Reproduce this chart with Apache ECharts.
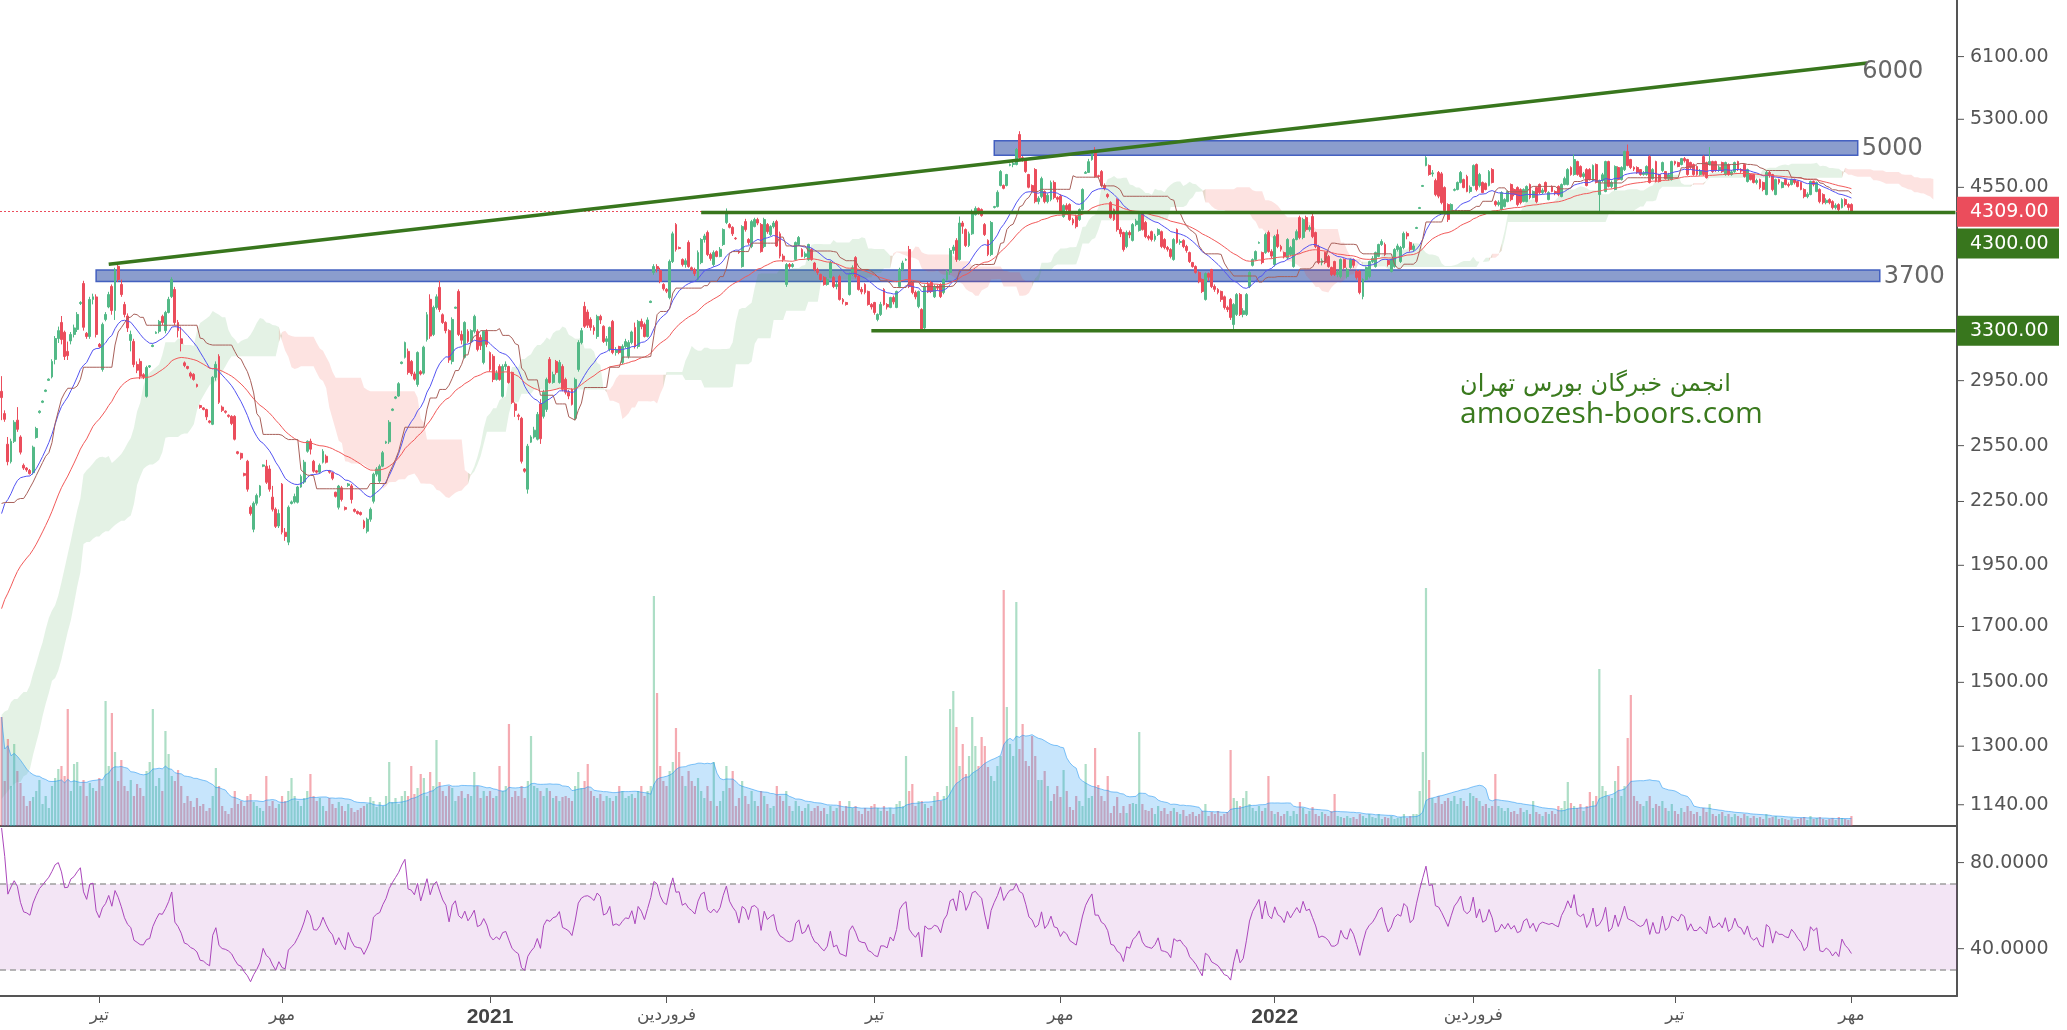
<!DOCTYPE html>
<html><head><meta charset="utf-8">
<script src="https://cdn.jsdelivr.net/npm/echarts@6/dist/echarts.min.js"></script>
<style>html,body{margin:0;padding:0;background:#fff;}#c{width:2067px;height:1030px;}</style>
</head><body><div id="c"></div>
<script>
// ---------- DATA ----------
const warmupCloses = [
760,770,790,780,800,820,810,830,850,840,860,880,870,890,910,900,920,940,930,950,
970,990,980,1010,1040,1030,1060,1090,1080,1110,1140,1130,1160,1190,1180,1210,1240,1230,1260,1290,
1310,1340,1330,1360,1390,1380,1410,1440,1430,1460,1490,1480,1510,1530,1520,1500,1540,1560,1530,1510,
1540,1570,1550,1600,1660,1720,1790,1860,1930,2000,2060,2040,2100,2180,2250,2330,2420,2520,2640,2760];

// [open, close, low, high]
const bars = [
[2880,2840,2700,2980],[2740,2705,2690,2760],[2558,2460,2440,2600],[2460,2575,2450,2590],[2575,2687,2565,2700],[2700,2645,2630,2780],[2600,2513,2500,2610],[2440,2425,2415,2450],[2425,2415,2405,2430],[2412,2395,2390,2420],
[2400,2541,2390,2550],[2597,2650,2590,2660],[2747,2755,2740,2760],[2810,2818,2805,2822],[2880,2888,2875,2892],[2952,2960,2948,2965],[2975,3080,2965,3095],[3094,3242,3060,3260],[3242,3300,3210,3330],[3361,3235,3200,3410],
[3288,3114,3090,3300],[3150,3120,3090,3220],[3225,3272,3200,3290],[3272,3320,3250,3345],[3309,3422,3290,3440],[3507,3515,3495,3525],[3668,3325,3300,3690],[3280,3257,3240,3290],[3257,3539,3240,3560],[3539,3560,3500,3585],
[3559,3272,3250,3580],[3200,3185,3175,3210],[3025,3346,3010,3360],[3384,3422,3370,3440],[3480,3578,3470,3600],[3644,3452,3420,3660],[3452,3785,3380,3800],[3812,3701,3680,3840],[3660,3578,3560,3700],[3499,3422,3400,3520],
[3410,3320,3290,3430],[3228,3272,3150,3300],[3221,3059,3040,3240],[3059,3020,3000,3080],[3080,2979,2960,3100],[2990,2975,2960,3000],[2848,3038,2840,3050],[3042,3050,3035,3055],[3185,3193,3180,3200],[3280,3288,3275,3295],
[3295,3369,3280,3380],[3407,3361,3340,3420],[3300,3437,3280,3450],[3437,3540,3430,3560],[3562,3701,3550,3720],[3619,3361,3340,3640],[3361,3300,3250,3380],[3240,3206,3150,3330],[3070,3052,3040,3080],[3045,3032,3025,3050],
[3000,2980,2965,3010],[2992,2958,2950,3000],[2925,2912,2905,2930],[2790,2778,2770,2795],[2775,2766,2760,2780],[2765,2720,2700,2770],[2695,2687,2680,2700],[2675,2972,2670,2980],[2972,3060,2950,3080],[3115,2810,2800,3130],
[2780,2760,2750,2790],[2755,2748,2740,2760],[2730,2723,2715,2735],[2723,2680,2670,2730],[2723,2587,2580,2730],[2515,2506,2500,2520],[2506,2480,2470,2510],[2395,2386,2380,2400],[2462,2313,2300,2470],[2221,2190,2180,2230],
[2114,2241,2100,2250],[2241,2280,2230,2290],[2280,2330,2270,2335],[2435,2442,2430,2445],[2435,2349,2340,2470],[2420,2313,2300,2440],[2272,2211,2200,2330],[2211,2128,2120,2220],[2130,2190,2120,2210],[2339,2100,2090,2345],
[2100,2080,2060,2120],[2054,2221,2040,2230],[2240,2248,2235,2255],[2248,2275,2240,2290],[2246,2324,2240,2330],[2324,2380,2320,2390],[2350,2457,2340,2470],[2518,2575,2510,2580],[2575,2530,2500,2590],[2462,2408,2400,2470],
[2410,2403,2395,2415],[2403,2440,2395,2450],[2457,2518,2450,2530],[2490,2457,2450,2500],[2410,2403,2395,2415],[2400,2370,2360,2405],[2297,2276,2270,2300],[2221,2329,2210,2335],[2320,2260,2250,2330],[2220,2211,2205,2225],
[2332,2340,2325,2345],[2330,2260,2240,2340],[2210,2201,2195,2215],[2200,2190,2185,2205],[2195,2185,2180,2200],[2153,2123,2115,2160],[2105,2162,2095,2170],[2162,2211,2150,2220],[2251,2392,2240,2400],[2392,2420,2380,2430],
[2355,2435,2345,2445],[2435,2510,2430,2520],[2565,2572,2560,2578],[2572,2687,2560,2700],[2760,2768,2755,2772],[2836,2844,2830,2850],[2850,2930,2845,2940],[3066,3075,3060,3080],[3108,3213,3100,3220],[3150,3005,2990,3170],
[3080,2995,2980,3090],[2995,2960,2950,3010],[2925,3142,2910,3150],[3010,2995,2985,3020],[3000,3180,2990,3190],[3235,3420,3220,3440],[3540,3260,3240,3580],[3272,3476,3260,3490],[3476,3560,3460,3580],[3636,3460,3440,3690],
[3420,3361,3350,3430],[3361,3300,3280,3370],[3300,3090,3070,3310],[3080,3384,3060,3400],[3470,3478,3465,3482],[3603,3272,3260,3620],[3272,3230,3200,3300],[3108,3361,3100,3370],[3295,3221,3210,3310],[3221,3300,3210,3310],
[3295,3407,3280,3420],[3295,3164,3150,3310],[3250,3190,3160,3270],[3073,3295,3060,3300],[3295,3200,3180,3310],[3142,3025,3010,3150],[3115,2958,2940,3130],[2958,3000,2950,3020],[3045,2958,2950,3060],[2848,3045,2840,3060],
[3045,3060,3020,3080],[3045,2938,2930,3050],[3005,2810,2800,3010],[2800,2760,2720,2810],[2730,2723,2700,2740],[2711,2462,2450,2720],[2420,2408,2400,2425],[2313,2547,2290,2560],[2570,2600,2565,2610],[2600,2640,2590,2660],
[2587,2735,2580,2750],[2800,2590,2560,2830],[2723,2874,2710,2890],[2766,2958,2750,2970],[3094,2938,2930,3110],[2938,2990,2930,3010],[3080,3005,2990,3090],[2938,3073,2930,3090],[3045,2893,2880,3060],[2958,2874,2860,2970],
[2874,2850,2830,2890],[2893,2797,2790,2900],[2711,2958,2700,2970],[3025,3213,3010,3230],[3213,3300,3200,3320],[3484,3332,3320,3520],[3440,3340,3320,3460],[3384,3324,3300,3400],[3324,3300,3270,3340],[3257,3407,3240,3420],
[3407,3380,3350,3420],[3332,3221,3210,3340],[3221,3240,3190,3260],[3164,3324,3150,3330],[3369,3142,3130,3380],[3142,3160,3120,3180],[3185,3142,3130,3190],[3073,3185,3060,3200],[3185,3220,3170,3240],[3115,3213,3100,3230],
[3213,3290,3200,3300],[3324,3185,3170,3360],[3185,3369,3170,3380],[3369,3330,3310,3390],[3346,3257,3250,3360],[3257,3380,3250,3400],[3515,3525,3510,3530],[3760,3810,3740,3830],[3810,3790,3760,3830],[3776,3685,3670,3800],
[3660,3625,3610,3670],[3620,3605,3590,3630],[3554,3853,3540,3870],[3853,4100,3840,4120],[4186,3958,3940,4200],[3975,3967,3960,3985],[3870,3827,3810,3880],[3827,3860,3800,3880],[4021,3810,3800,4040],[3800,3785,3775,3810],
[3785,3750,3730,3800],[3701,3931,3690,3950],[3844,4048,3830,4060],[4048,4080,4020,4100],[4112,3914,3900,4130],[3914,3880,3860,3930],[3827,3931,3810,3950],[3940,3897,3890,3950],[3897,3960,3890,3980],[4003,4139,3990,4150],
[4205,4300,4190,4340],[4186,4160,4150,4200],[4160,4100,4080,4170],[4060,4055,4045,4070],[3940,3931,3920,3950],[3810,4167,3800,4180],[4214,4139,4120,4240],[4048,4021,4000,4060],[3985,4214,3970,4230],[4167,4233,4160,4250],
[4233,4200,4180,4250],[4186,3940,3930,4200],[3985,4233,3970,4250],[4186,4120,4100,4200],[4093,4167,4080,4180],[4167,4200,4150,4220],[4214,3990,3980,4230],[4100,3900,3880,4120],[3900,3870,3850,3920],[3660,3827,3640,3840],
[3827,3810,3790,3840],[3810,3827,3800,3840],[3870,4021,3860,4030],[4003,4066,3990,4080],[3958,3897,3890,3970],[3897,3920,3880,3940],[3870,4003,3860,4010],[3958,3870,3860,3970],[3840,3785,3770,3850],[3785,3760,3740,3800],
[3743,3701,3690,3750],[3718,3660,3650,3730],[3660,3700,3650,3720],[3718,3844,3710,3860],[3718,3643,3630,3730],[3643,3660,3620,3680],[3726,3539,3530,3740],[3539,3520,3500,3550],[3515,3499,3490,3520],[3578,3743,3570,3760],
[3743,3800,3730,3820],[3887,3726,3710,3900],[3726,3619,3610,3740],[3619,3600,3580,3640],[3660,3595,3580,3670],[3603,3499,3490,3610],[3499,3480,3460,3510],[3515,3437,3420,3520],[3384,3422,3370,3430],[3422,3500,3410,3520],
[3619,3499,3490,3630],[3499,3480,3460,3510],[3476,3555,3470,3560],[3555,3520,3500,3570],[3476,3603,3470,3610],[3643,3785,3630,3800],[3785,3840,3770,3860],[3865,3870,3860,3880],[3958,3643,3630,3990],[3676,3595,3580,3690],
[3595,3560,3540,3610],[3484,3603,3470,3610],[3460,3309,3295,3470],[3320,3640,3310,3660],[3660,3600,3590,3680],[3676,3603,3590,3690],[3560,3643,3550,3660],[3643,3630,3610,3660],[3660,3562,3550,3670],[3595,3701,3580,3710],
[3701,3760,3690,3780],[3760,3950,3740,3970],[3950,3980,3920,4000],[4040,3870,3850,4060],[3870,4200,3860,4262],[4200,4170,4100,4220],[4139,3994,3980,4150],[3994,4100,3980,4120],[4100,4310,4090,4330],[4280,4340,4270,4360],
[4340,4300,4280,4350],[4329,4271,4260,4340],[4186,4093,4080,4200],[4040,3914,3900,4050],[3914,4205,3900,4220],[4350,4358,4340,4365],[4358,4500,4350,4520],[4569,4714,4560,4730],[4569,4540,4530,4580],[4569,4683,4560,4690],
[4780,4789,4770,4800],[4789,4800,4760,4830],[4789,4953,4780,4970],[5122,4863,4850,5160],[4863,4840,4820,4880],[4843,4714,4700,4850],[4683,4551,4540,4690],[4569,4510,4500,4580],[4735,4407,4390,4750],[4407,4440,4380,4460],
[4457,4640,4440,4660],[4508,4407,4390,4520],[4407,4470,4390,4490],[4427,4600,4410,4620],[4600,4447,4430,4620],[4447,4430,4400,4460],[4461,4300,4290,4480],[4262,4368,4250,4380],[4368,4330,4310,4390],[4378,4233,4220,4390],
[4233,4200,4180,4250],[4262,4167,4150,4280],[4233,4329,4220,4340],[4329,4528,4320,4540],[4695,4705,4690,4720],[4705,4820,4700,4850],[4843,4920,4830,4940],[4931,4662,4650,4980],[4670,4662,4650,4680],[4714,4569,4550,4730],
[4569,4540,4520,4590],[4477,4457,4440,4490],[4397,4252,4240,4410],[4329,4233,4220,4340],[4427,4139,4120,4440],[4139,4100,4070,4160],[4112,3958,3940,4120],[3985,4112,3970,4130],[4112,4090,4060,4130],[4040,4186,4030,4200],
[4186,4220,4170,4240],[4130,4281,4120,4300],[4300,4139,4130,4310],[4205,4075,4060,4220],[4075,4060,4040,4090],[4120,4048,4030,4130],[4048,4080,4030,4100],[4093,4139,4080,4150],[4120,3985,3970,4130],[4048,3976,3960,4060],
[3976,3960,3940,3990],[3958,3897,3880,3970],[3870,4048,3860,4060],[4139,4021,4010,4150],[4021,4030,4000,4050],[4040,3985,3970,4050],[3985,3950,3930,4000],[3931,3853,3840,3940],[3844,3810,3800,3850],[3810,3760,3750,3820],
[3760,3684,3670,3770],[3701,3603,3590,3710],[3539,3750,3530,3760],[3750,3720,3690,3760],[3785,3643,3630,3790],[3643,3620,3600,3660],[3619,3595,3580,3630],[3603,3539,3520,3610],[3560,3476,3460,3570],[3476,3460,3440,3490],
[3539,3399,3380,3550],[3346,3499,3310,3510],[3422,3578,3410,3590],[3578,3422,3410,3590],[3422,3450,3400,3470],[3422,3578,3410,3590],[3643,3760,3630,3770],[3820,3870,3810,3880],[3870,3940,3860,3950],[4015,4021,4010,4030],
[3931,3844,3830,3940],[3931,4093,3920,4110],[4112,3940,3930,4130],[3940,3900,3880,3960],[3827,4075,3810,4090],[4093,3985,3970,4140],[3985,3960,3940,4000],[3931,3897,3880,3940],[3887,4048,3870,4060],[3914,3976,3900,3990],
[3810,4048,3800,4060],[4048,4120,4040,4140],[4252,4066,4050,4270],[4066,4233,4050,4250],[4252,4139,4120,4270],[4139,4160,4120,4180],[4262,4075,4060,4300],[4112,3985,3970,4120],[3985,3844,3830,4000],[3844,3860,3820,3880],
[3931,3844,3830,3940],[3897,3810,3800,3910],[3802,3743,3730,3810],[3853,3743,3730,3860],[3743,3760,3720,3780],[3726,3870,3710,3880],[3870,3802,3790,3880],[3726,3785,3710,3800],[3802,3870,3790,3880],[3870,3820,3800,3880],
[3768,3718,3700,3780],[3768,3595,3580,3780],[3562,3701,3540,3710],[3701,3802,3690,3810],[3726,3853,3710,3860],[3853,3880,3840,3900],[3810,3931,3800,3940],[3897,4003,3890,4010],[4003,4030,3990,4050],[4003,3914,3900,4020],
[3862,3827,3810,3870],[3768,3870,3760,3880],[3810,3958,3800,3970],[3958,3990,3940,4010],[3853,3976,3840,3990],[3976,4103,3960,4120],[4103,4080,4050,4120],[4021,3958,3940,4030],[3958,3990,3940,4010],[4150,4158,4145,4165],
[4340,4348,4335,4355],[4560,4569,4555,4575],[4778,4863,4770,4880],[4778,4683,4670,4790],[4690,4700,4660,4730],[4620,4477,4460,4640],[4704,4461,4440,4720],[4690,4397,4380,4710],[4548,4319,4300,4560],[4378,4233,4210,4390],
[4300,4378,4290,4390],[4520,4528,4510,4540],[4528,4600,4520,4610],[4600,4704,4590,4720],[4630,4548,4540,4640],[4662,4508,4500,4680],[4508,4550,4490,4570],[4569,4778,4560,4790],[4789,4528,4510,4800],[4569,4683,4550,4700],
[4600,4497,4490,4610],[4590,4528,4520,4600],[4569,4714,4560,4730],[4735,4600,4590,4750],[4407,4378,4360,4420],[4378,4400,4360,4420],[4329,4497,4320,4510],[4358,4427,4350,4440],[4407,4508,4400,4520],[4579,4427,4410,4590],
[4528,4477,4460,4540],[4548,4378,4360,4560],[4528,4397,4380,4540],[4407,4528,4400,4540],[4407,4559,4400,4570],[4579,4447,4430,4590],[4447,4508,4440,4520],[4548,4407,4390,4560],[4579,4497,4480,4590],[4497,4520,4480,4540],
[4600,4508,4490,4610],[4427,4497,4420,4510],[4559,4508,4500,4570],[4508,4490,4470,4520],[4559,4477,4460,4570],[4457,4579,4450,4590],[4579,4640,4570,4660],[4579,4735,4570,4750],[4757,4683,4670,4770],[4683,4843,4670,4900],
[4821,4683,4670,4830],[4768,4662,4650,4780],[4662,4690,4640,4710],[4735,4569,4560,4750],[4735,4630,4620,4750],[4620,4778,4610,4790],[4789,4600,4590,4800],[4477,4620,4290,4630],[4620,4680,4600,4700],[4508,4821,4500,4830],
[4821,4559,4550,4830],[4559,4600,4540,4620],[4528,4768,4520,4780],[4757,4630,4620,4770],[4630,4757,4620,4770],[4735,4931,4720,4940],[4931,4778,4770,5008],[4843,4757,4740,4850],[4757,4740,4720,4770],[4757,4704,4690,4770],
[4735,4683,4670,4740],[4683,4700,4670,4720],[4683,4768,4670,4780],[4875,4600,4590,4890],[4640,4735,4630,4750],[4821,4610,4600,4830],[4683,4610,4600,4690],[4725,4810,4710,4820],[4714,4640,4630,4720],[4640,4680,4620,4700],
[4630,4821,4620,4830],[4821,4800,4780,4830],[4810,4768,4760,4820],[4789,4853,4780,4860],[4853,4830,4810,4870],[4843,4683,4670,4850],[4810,4757,4740,4820],[4789,4683,4670,4800],[4768,4683,4670,4780],[4683,4720,4670,4740],
[4875,4683,4670,4890],[4810,4650,4640,4820],[4789,4821,4780,4980],[4821,4714,4700,4830],[4821,4725,4710,4830],[4725,4760,4710,4780],[4810,4714,4700,4820],[4683,4810,4670,4820],[4789,4683,4670,4800],[4683,4710,4670,4730],
[4714,4810,4700,4820],[4821,4735,4720,4830],[4735,4720,4700,4750],[4789,4662,4650,4800],[4610,4735,4600,4745],[4683,4630,4620,4690],[4683,4600,4590,4690],[4600,4620,4580,4640],[4630,4548,4530,4640],[4600,4528,4510,4610],
[4477,4704,4470,4720],[4704,4680,4650,4720],[4683,4528,4510,4690],[4477,4630,4470,4640],[4630,4600,4580,4640],[4548,4600,4540,4610],[4630,4579,4570,4640],[4579,4570,4550,4600],[4579,4630,4570,4640],[4630,4600,4580,4640],
[4610,4559,4550,4620],[4600,4528,4520,4610],[4528,4457,4440,4540],[4457,4480,4440,4500],[4477,4610,4470,4620],[4610,4580,4560,4620],[4508,4600,4500,4610],[4528,4407,4390,4540],[4477,4397,4380,4490],[4397,4420,4380,4440],
[4427,4397,4380,4440],[4407,4348,4330,4420],[4348,4370,4330,4390],[4378,4329,4310,4390],[4348,4427,4340,4440],[4427,4378,4360,4440],[4378,4350,4320,4390],[4378,4309,4290,4390]];

const volumes = [
109,45,87,40,82,55,43,30,20,25,29,35,46,22,30,18,40,48,57,60,
50,117,35,62,64,40,46,30,43,38,35,48,40,125,60,113,74,45,66,40,
35,46,30,42,38,30,55,64,117,40,48,35,95,72,50,45,56,40,23,30,
25,19,28,20,22,15,18,30,58,40,20,15,12,18,35,22,25,20,30,32,
24,20,18,15,50,20,25,18,22,30,25,35,48,30,25,20,28,35,52,30,
25,28,20,15,28,22,18,24,20,15,22,18,14,16,18,20,22,29,25,19,
24,20,30,64,24,28,22,30,35,30,60,32,38,52,48,30,54,40,86,44,
35,30,40,38,25,30,35,28,32,30,54,40,28,35,30,35,28,30,60,35,
40,102,29,35,30,40,28,45,90,40,38,35,30,38,35,28,30,25,29,30,
28,25,40,54,38,45,62,35,30,28,32,25,30,28,25,30,40,35,28,30,
32,28,35,40,30,35,40,230,133,60,45,40,55,64,98,74,50,40,55,45,
40,48,35,28,40,25,64,20,25,35,60,38,55,20,28,45,30,22,35,25,
20,35,30,22,18,20,40,30,25,35,20,15,25,20,15,18,22,15,18,20,
15,18,12,20,15,18,25,15,20,25,18,20,15,12,18,15,20,22,18,15,
20,15,18,12,22,25,20,70,35,42,20,25,25,22,18,20,30,34,25,30,
40,117,135,99,60,82,52,70,109,80,60,89,80,59,50,45,60,70,236,119,
82,70,224,77,102,65,60,90,70,46,46,55,40,25,32,40,29,56,35,19,
16,30,25,20,62,28,30,78,41,30,25,50,13,20,29,13,20,13,22,23,
22,94,22,16,15,18,12,20,15,18,12,15,18,14,12,16,10,12,14,10,
12,15,22,10,14,12,15,10,12,14,76,28,25,20,28,35,22,18,15,20,
15,18,50,15,12,14,10,12,15,10,15,12,24,18,12,15,19,12,10,14,
12,10,15,32,10,9,8,10,8,9,7,12,10,8,12,9,8,12,7,9,
8,10,7,8,9,12,8,10,12,12,35,74,238,46,28,23,30,22,25,28,
25,30,22,28,25,20,33,30,28,25,20,22,18,20,52,20,18,15,18,14,
15,12,18,14,16,12,25,14,12,10,14,12,15,12,20,18,25,44,23,20,
18,22,15,20,34,25,30,157,40,35,30,28,45,60,30,40,88,131,30,25,
22,20,25,30,18,22,20,25,18,15,22,15,12,18,14,20,15,12,14,10,
18,14,22,12,10,12,14,10,12,9,12,10,8,12,10,8,10,8,9,7,
12,8,9,10,7,8,7,6,8,6,7,8,9,6,10,7,8,9,7,6,
7,8,6,9,8,7,6,10];

const xLabels = [[31,'تیر'],[89,'مهر'],[155,'2021'],[211,'فروردین'],[277,'تیر'],[336,'مهر'],[404,'2022'],[467,'فروردین'],[531,'تیر'],[587,'مهر']];
const priceTicks = [6100,5300,4550,2950,2550,2250,1950,1700,1500,1300,1140];
const rsiTicks = [80,40];
const trendLine = [[34,3830],[592,6014]];
const trendLabel = '6000';
const levelLines = [{price:4300, from:222}, {price:3300, from:276}];
const zones = [{from:315,to:589,top:5050,bottom:4890,label:'5000'},{from:30,to:596,top:3780,bottom:3685,label:'3700'}];
const lastPrice = 4309;
const priceBoxes = [{price:4309,color:'#eb4d5c',shift:0},{price:4300,color:'#38761d',shift:31},{price:3300,color:'#38761d',shift:0}];
const totalSlots = 621;

// ---------- INDICATORS ----------
const N = bars.length, W = warmupCloses.length;
const allC = warmupCloses.concat(bars.map(b=>b[1]));
const allH = warmupCloses.concat(bars.map(b=>b[3]));
const allL = warmupCloses.concat(bars.map(b=>b[2]));
function ema(arr,p){const k=2/(p+1);let e=arr[0];return arr.map((v,i)=>{if(i>0)e=v*k+e*(1-k);return e;});}
function mid(i,p){let hi=-Infinity,lo=Infinity;for(let j=Math.max(0,i-p+1);j<=i;j++){hi=Math.max(hi,allH[j]);lo=Math.min(lo,allL[j]);}return (hi+lo)/2;}
const ema20 = ema(allC,20).slice(W);
const ema50 = ema(allC,50).slice(W);
const kijunAll = allC.map((_,i)=>mid(i,26));
const tenkanAll = allC.map((_,i)=>mid(i,9));
const kijun = kijunAll.slice(W);
const spanA = {}, spanB = {};
const cloudIdx = [];
for(let k=0;k<N+26;k++){const j=W+k-26;if(j<51)continue;spanA[k]=(tenkanAll[j]+kijunAll[j])/2;spanB[k]=mid(j,52);cloudIdx.push(k);}
const runs=[];
{let s=cloudIdx[0],sign=spanA[s]>=spanB[s];
 for(let t=1;t<cloudIdx.length;t++){const k=cloudIdx[t];const sg=spanA[k]>=spanB[k];
  if(sg!==sign){runs.push([s,k,sign?1:0]);s=k-1<cloudIdx[0]?k:k-1;sign=sg;}}
 runs.push([s,cloudIdx[cloudIdx.length-1],sign?1:0]);}
function rsi(arr,p){const out=new Array(arr.length).fill(null);let g=0,l=0;for(let i=1;i<=p;i++){const d=arr[i]-arr[i-1];if(d>0)g+=d;else l-=d;}g/=p;l/=p;out[p]=100-100/(1+g/(l||1e-9));
 for(let i=p+1;i<arr.length;i++){const d=arr[i]-arr[i-1];g=(g*(p-1)+Math.max(d,0))/p;l=(l*(p-1)+Math.max(-d,0))/p;out[i]=l===0?100:100-100/(1+g/l);}return out;}
const rsi14 = rsi(allC,14).slice(W);
const volMA = volumes.map((_,i)=>{const s=Math.max(0,i-19);let t=0;for(let j=s;j<=i;j++)t+=volumes[j];return t/(i-s+1);});

const cats = Array.from({length:totalSlots},(_,i)=>String(i));
const labelMap = {}; xLabels.forEach(([i,t])=>labelMap[i]=t);

const UP='#53b987', DN='#eb4d5c', GREEN='#38761d';
const chart = echarts.init(document.getElementById('c'), null, {renderer:'canvas'});
const option = {
  animation:false,
  backgroundColor:'#ffffff',
  grid:[{left:0,top:0,width:1957,height:826,containLabel:false,outerBoundsMode:'none'},
        {left:0,top:826,width:1957,height:170,containLabel:false,outerBoundsMode:'none'}],
  xAxis:[
    {type:'category',gridIndex:0,data:cats,boundaryGap:true,axisLine:{show:true,lineStyle:{color:'#555',width:2}},axisTick:{show:false},axisLabel:{show:false},splitLine:{show:false}},
    {type:'category',gridIndex:1,data:cats,boundaryGap:true,axisLine:{show:true,lineStyle:{color:'#555',width:2}},
     axisTick:{show:true,alignWithLabel:true,length:7,lineStyle:{color:'#555',width:1},interval:(i)=>labelMap[i]!==undefined},
     axisLabel:{show:true,interval:(i)=>labelMap[i]!==undefined,margin:11,fontFamily:'DejaVu Sans',fontSize:17,color:'#555',
       formatter:(v,i)=>{const t=labelMap[i];if(!t)return '';return /^\d+$/.test(t)?'{y|'+t+'}':t;},
       rich:{y:{fontFamily:'Liberation Sans',fontWeight:'bold',fontSize:21,color:'#444'}}},
     splitLine:{show:false}}
  ],
  yAxis:[
    {type:'log',gridIndex:0,position:'right',min:1087,max:6925,logBase:10,axisLine:{show:true,lineStyle:{color:'#555',width:2}},axisTick:{show:false},axisLabel:{show:false},splitLine:{show:false}},
    {type:'value',gridIndex:0,min:0,max:826,show:false,splitLine:{show:false}},
    {type:'value',gridIndex:1,position:'right',min:18,max:97,axisLine:{show:true,lineStyle:{color:'#555',width:2}},axisTick:{show:false},axisLabel:{show:false},splitLine:{show:false}}
  ],
  series:[
    {type:'custom',name:'cloud',xAxisIndex:0,yAxisIndex:0,z:1,silent:true,
     data:runs.map(r=>[r[0],r[1],r[2]]),
     encode:{x:0,y:1},
     renderItem:(params,api)=>{
       const s=api.value(0),e=api.value(1),up=api.value(2);
       const pts=[];
       for(let k=s;k<=e;k++)pts.push(api.coord([k,spanA[k]]));
       for(let k=e;k>=s;k--)pts.push(api.coord([k,spanB[k]]));
       return {type:'polygon',shape:{points:pts},style:{fill:up?'rgba(67,160,71,0.14)':'rgba(244,67,54,0.15)',stroke:null}};
     }},
    {type:'bar',name:'vol',xAxisIndex:0,yAxisIndex:1,z:2,barWidth:'70%',silent:true,
     data:volumes.map((v,i)=>({value:v,itemStyle:{color:bars[i][1]>=bars[i][0]?'rgba(83,185,135,0.48)':'rgba(235,77,92,0.48)'}}))},
    {type:'line',name:'volMA',xAxisIndex:0,yAxisIndex:1,z:3,symbol:'none',silent:true,data:volMA,
     lineStyle:{color:'rgba(33,150,243,0.55)',width:1},areaStyle:{color:'rgba(33,150,243,0.36)'}},
    {type:'candlestick',name:'price',xAxisIndex:0,yAxisIndex:0,z:4,barWidth:'76%',silent:true,data:bars,
     itemStyle:{color:UP,color0:DN,borderColor:UP,borderColor0:DN,borderWidth:1},
     markLine:{silent:true,symbol:['none','none'],label:{show:false},lineStyle:{color:DN,type:[2,2],width:1},data:[{yAxis:lastPrice}]}},
    {type:'line',name:'ema20',xAxisIndex:0,yAxisIndex:0,z:5,symbol:'none',silent:true,data:ema20,lineStyle:{color:'#5454f2',width:1}},
    {type:'line',name:'ema50',xAxisIndex:0,yAxisIndex:0,z:5,symbol:'none',silent:true,data:ema50,lineStyle:{color:'#f25a5a',width:1}},
    {type:'line',name:'kijun',xAxisIndex:0,yAxisIndex:0,z:5,symbol:'none',silent:true,data:kijun,lineStyle:{color:'#a8605a',width:1}},
    {type:'line',name:'zones',xAxisIndex:0,yAxisIndex:0,z:6,data:[],silent:true,
     markArea:{silent:true,label:{show:false},itemStyle:{color:'rgba(62,92,172,0.6)',borderColor:'rgba(60,90,190,0.95)',borderWidth:1.5},
       data:zones.map(z=>[{xAxis:z.from,yAxis:z.top},{xAxis:z.to,yAxis:z.bottom}])}},
    {type:'line',name:'trend',xAxisIndex:0,yAxisIndex:0,z:7,symbol:'none',silent:true,data:trendLine,lineStyle:{color:GREEN,width:3.5}},
    ...levelLines.map(l=>({type:'line',xAxisIndex:0,yAxisIndex:0,z:7,symbol:'none',silent:true,data:[[l.from,l.price],[totalSlots-1,l.price]],lineStyle:{color:GREEN,width:3.5}})),
    {type:'line',name:'rsi',xAxisIndex:1,yAxisIndex:2,z:5,symbol:'none',silent:true,data:rsi14,lineStyle:{color:'#ab47bc',width:1},
     markArea:{silent:true,itemStyle:{color:'rgba(156,39,176,0.12)'},data:[[{yAxis:30},{yAxis:70}]]},
     markLine:{silent:true,symbol:['none','none'],label:{show:false},lineStyle:{color:'#9e9e9e',type:[6,4],width:1.5},data:[{yAxis:30},{yAxis:70}]}}
  ]
};
chart.setOption(option);

// axis labels, price boxes and drawing labels, positioned through the chart's own scales
const g=[];
const AX=1957;
const py=v=>chart.convertToPixel({yAxisIndex:0},v);
priceTicks.forEach(v=>{const y=py(v);
  g.push({type:'line',silent:true,z:100,shape:{x1:AX,y1:y,x2:AX+7,y2:y},style:{stroke:'#555',lineWidth:1}});
  g.push({type:'text',silent:true,z:100,x:AX+13,y:y,style:{text:v.toFixed(2),font:'19px "DejaVu Sans"',fill:'#555',verticalAlign:'middle',align:'left'}});});
priceBoxes.forEach(b=>{const y=py(b.price)+b.shift;
  g.push({type:'rect',silent:true,z:101,shape:{x:AX,y:y-15,width:102,height:30},style:{fill:b.color}});
  g.push({type:'text',silent:true,z:102,x:AX+13,y:y,style:{text:b.price.toFixed(2),font:'19px "DejaVu Sans"',fill:'#fff',verticalAlign:'middle',align:'left'}});});
rsiTicks.forEach(v=>{const y=chart.convertToPixel({yAxisIndex:2},v);
  g.push({type:'line',silent:true,z:100,shape:{x1:AX,y1:y,x2:AX+7,y2:y},style:{stroke:'#555',lineWidth:1}});
  g.push({type:'text',silent:true,z:100,x:AX+13,y:y,style:{text:v.toFixed(4),font:'19px "DejaVu Sans"',fill:'#555',verticalAlign:'middle',align:'left'}});});
zones.forEach(z=>{const p=chart.convertToPixel({xAxisIndex:0,yAxisIndex:0},[z.to,Math.sqrt(z.top*z.bottom)]);
  g.push({type:'text',silent:true,z:100,x:p[0]+4,y:p[1]+1,style:{text:z.label,font:'24px "DejaVu Sans"',fill:'#666',verticalAlign:'middle',align:'left'}});});
{const p=chart.convertToPixel({xAxisIndex:0,yAxisIndex:0},trendLine[1]);
  g.push({type:'text',silent:true,z:100,x:p[0]-5,y:p[1]+9,style:{text:trendLabel,font:'24px "DejaVu Sans"',fill:'#666',verticalAlign:'middle',align:'left'}});}
g.push({type:'text',silent:true,z:100,x:1460,y:385,style:{text:'انجمن خبرگان بورس تهران',font:'24px "DejaVu Sans"',fill:'#3a7a1e',verticalAlign:'middle',align:'left'}});
g.push({type:'text',silent:true,z:100,x:1460,y:414,style:{text:'amoozesh-boors.com',font:'30px "Open Sans"',fill:'#3a7a1e',verticalAlign:'middle',align:'left'}});
chart.setOption({graphic:g});
</script></body></html>
